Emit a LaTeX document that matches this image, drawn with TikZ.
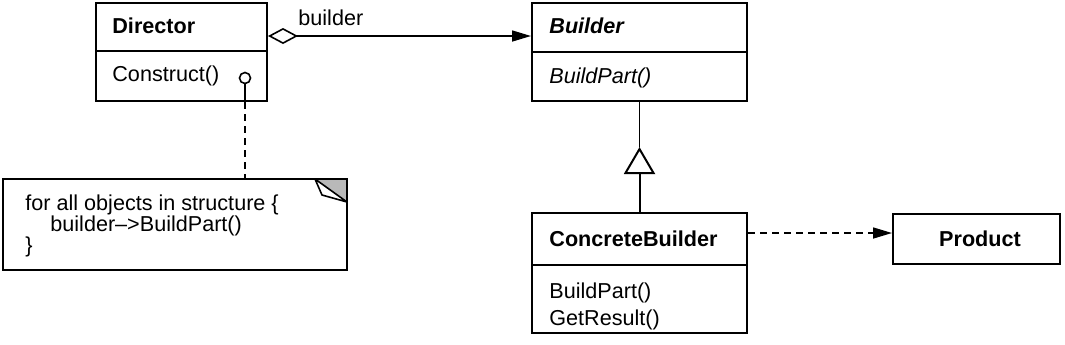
\documentclass[tikz,border=0pt]{standalone}
\usepackage{fontspec}
\setmainfont{Liberation Sans}
\usetikzlibrary{arrows.meta,calc}
\begin{document}
\begin{tikzpicture}[x=0.5pt,y=-0.5pt,
  box/.style={draw,line width=1pt,inner sep=0pt,rectangle},
  lbl/.style={inner sep=0pt,font=\fontsize{10.8}{13}\selectfont},
  conn/.style={line width=0.8pt},
  dsh/.style={line width=0.8pt,dash pattern=on 3.5pt off 2.5pt},
  headarrow/.style={-{Triangle[length=9.5pt,width=5.5pt]}}
]
\useasboundingbox (0,0) rectangle (1065,344);

% Director
\node[box,minimum width=85.5pt,minimum height=49pt] (dir) at (181.5,52) {};
\draw[line width=0.8pt] (dir.west |- 0,51) -- (dir.east |- 0,51);
\node[lbl,anchor=base west] (tdir) at (112,33) {\bfseries Director};
\node[lbl,anchor=base west] (tcon) at (112,81) {Construct()};
\node[draw,circle,line width=0.8pt,minimum size=5.5pt,inner sep=0pt] (dot) at (245,78) {};

% Builder
\node[box,minimum width=107.5pt,minimum height=49pt] (bld) at (639.5,52) {};
\draw[line width=0.8pt] (bld.west |- 0,52) -- (bld.east |- 0,52);
\node[lbl,anchor=base west] (tbld) at (549,33) {\bfseries\itshape Builder};
\node[lbl,anchor=base west] (tbp) at (549,83) {\itshape BuildPart()};

% ConcreteBuilder
\node[box,minimum width=107.5pt,minimum height=60pt] (cb) at (639.5,273) {};
\draw[line width=0.8pt] (cb.west |- 0,265) -- (cb.east |- 0,265);
\node[lbl,anchor=base west] (tcb) at (549,246) {\bfseries ConcreteBuilder};
\node[lbl,anchor=base west] (tcbp) at (549,298) {BuildPart()};
\node[lbl,anchor=base west] (tcgr) at (549,325) {GetResult()};

% Product
\node[box,minimum width=83.5pt,minimum height=25pt] (prod) at (976.5,239) {};
\node[lbl,anchor=base] (tprod) at (980,246) {\bfseries Product};

% Note
\node[box,minimum width=172pt,minimum height=45.5pt] (note) at (175,224.5) {};
\coordinate (f1) at (315,179);
\coordinate (f2) at (347,179);
\coordinate (f3) at (347,202);
\coordinate (f4) at (322,195);
\fill[gray!55] (f1) -- (f2) -- (f3) -- cycle;
\draw[line width=0.8pt,fill=white,line join=round] (f1) -- (f4) -- (f3) -- cycle;
\draw[line width=1pt] (f1) -- (f2) -- (f3);
\node[lbl,anchor=base west] (n1) at (25,210) {for all objects in structure \{};
\node[lbl,anchor=base west] (n2) at (50,231) {builder\textendash{}>BuildPart()};
\node[lbl,anchor=base west] (n3) at (25,252) {\}};

% Director -> note
\coordinate (dotb) at (dot.south |- dir.south);
\coordinate (notet) at (dot.south |- note.north);
\draw[conn] (dot.south) -- (dotb);
\draw[dsh] (dotb) -- (notet);

% aggregation Director -> Builder
\path (dir.north east) ++(0,34) coordinate (dA);
\path (bld.north west) ++(0,34) coordinate (bA);
\draw[conn,{Diamond[open,fill=white,length=15pt,width=8pt]}-{Triangle[length=9.5pt,width=5.5pt]}] (dA) -- (bA);
\node[lbl,anchor=base west] (tbuilder) at (298,25) {builder};

% inheritance
\path (bld.south) ++(0,45) coordinate (tri);
\draw[line width=1pt,-{Triangle[open,fill=white,length=13.5pt,width=15.5pt]}] (cb.north) -- (tri);
\draw[conn] (tri) -- (bld.south);

% dependency CB -> Product
\path (cb.north east) ++(0,21) coordinate (cE);
\path (prod.north west) ++(0,20) coordinate (pW);
\draw[dsh,headarrow] (cE) -- (pW);
\end{tikzpicture}
\end{document}
